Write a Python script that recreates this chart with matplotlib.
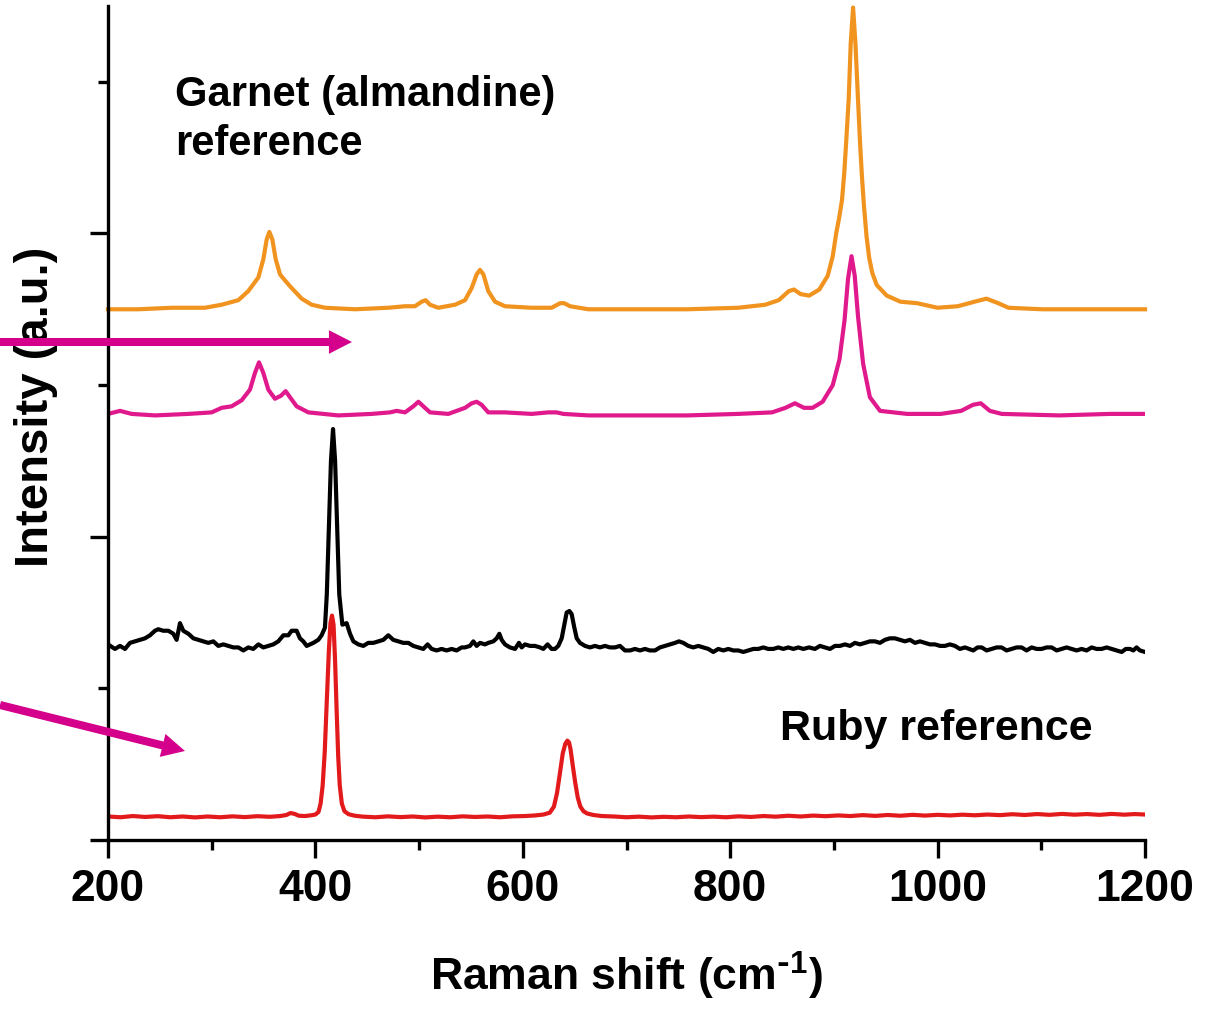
import matplotlib
matplotlib.use('Agg')
import matplotlib.pyplot as plt
from matplotlib.ticker import MultipleLocator

# Raman spectra, stacked with vertical offsets (a.u.)
garnet_ref_x = [200, 229.2, 261.4, 293.5, 309.6, 325.7, 335.3, 345.0, 349.8, 353.0, 355.6, 358.5,
                361.7, 365.9, 370.7, 377.1, 386.8, 396.4, 409.3, 438.2, 470.3, 486.4, 496.0, 502.5,
                506.3, 510.5, 518.5, 534.6, 544.3, 550.7, 555.5, 558.7, 562.0, 566.7, 573.2, 582.8,
                608.5, 627.8, 635.9, 640.0, 645.5, 663.2, 695.3, 758.8, 807.7, 833.8, 846.8, 856.6,
                861.5, 868.0, 876.1, 885.9, 894.0, 898.9, 902.2, 905.0, 907.8, 910.0, 912.0, 914.3,
                916.2, 918.5, 920.8, 923.2, 925.2, 927.0, 929.0, 931.5, 934.0, 937.0, 941.3, 951.0,
                964.1, 980.3, 999.9, 1019.4, 1035.7, 1047.1, 1058.5, 1068.3, 1100.9, 1149.7, 1200]
garnet_ref_y = [3.50, 3.50, 3.51, 3.51, 3.53, 3.56, 3.62, 3.71, 3.83, 3.96, 4.01, 3.96,
                3.83, 3.73, 3.69, 3.64, 3.57, 3.53, 3.51, 3.50, 3.51, 3.52, 3.52, 3.55,
                3.56, 3.53, 3.51, 3.53, 3.56, 3.64, 3.73, 3.76, 3.73, 3.62, 3.55, 3.52,
                3.51, 3.51, 3.54, 3.54, 3.52, 3.50, 3.50, 3.50, 3.51, 3.53, 3.56, 3.62,
                3.63, 3.60, 3.59, 3.63, 3.72, 3.85, 4.00, 4.10, 4.22, 4.40, 4.62, 4.89,
                5.25, 5.49, 5.25, 4.89, 4.60, 4.38, 4.18, 3.98, 3.84, 3.74, 3.66, 3.59,
                3.55, 3.54, 3.51, 3.52, 3.55, 3.57, 3.54, 3.51, 3.50, 3.50, 3.50]

garnet_sample_x = [200, 211.6, 222.8, 245.3, 277.5, 299.9, 309.6, 319.2, 328.9, 336.9, 341.7, 345.6,
                   349.8, 354.6, 361.0, 366.8, 371.3, 375.5, 381.9, 393.2, 422.1, 454.2, 471.9, 478.4,
                   486.4, 494.4, 499.3, 504.1, 510.5, 528.2, 544.3, 550.7, 555.5, 560.3, 566.7, 582.8,
                   608.5, 624.6, 632.6, 639.1, 663.2, 695.3, 758.8, 807.7, 840.3, 853.3, 862.4, 871.2,
                   879.4, 889.1, 898.9, 905.4, 910.3, 913.6, 917.0, 920.1, 923.3, 928.2, 934.7, 944.5,
                   970.6, 1003.1, 1022.7, 1034.1, 1041.6, 1050.4, 1061.8, 1117.2, 1166.0, 1200]
garnet_sample_y = [2.81, 2.83, 2.81, 2.80, 2.81, 2.82, 2.85, 2.86, 2.90, 2.97, 3.08, 3.15,
                   3.08, 2.97, 2.91, 2.93, 2.96, 2.92, 2.86, 2.82, 2.80, 2.81, 2.82, 2.83,
                   2.82, 2.86, 2.89, 2.86, 2.82, 2.81, 2.85, 2.88, 2.89, 2.87, 2.82, 2.82,
                   2.81, 2.82, 2.82, 2.81, 2.80, 2.80, 2.80, 2.81, 2.82, 2.85, 2.88, 2.85,
                   2.85, 2.89, 3.00, 3.17, 3.43, 3.70, 3.85, 3.72, 3.45, 3.14, 2.92, 2.83,
                   2.81, 2.81, 2.83, 2.87, 2.88, 2.83, 2.81, 2.80, 2.81, 2.81]

ruby_sample_x = [200, 206.7, 211.6, 216.4, 221.2, 226.0, 230.9, 235.7, 240.5, 245.3, 248.5, 253.3,
                 258.2, 263.0, 266.2, 269.4, 272.6, 277.5, 282.3, 287.1, 292.0, 296.7, 301.6, 306.4,
                 311.2, 316.0, 320.9, 325.7, 330.5, 335.3, 340.1, 345.0, 349.8, 354.6, 359.4, 364.2,
                 369.1, 373.9, 377.1, 381.9, 385.1, 388.3, 391.6, 394.8, 398.0, 402.8, 406.0, 409.2,
                 411.0, 413.0, 415.0, 417.0, 419.0, 421.0, 423.0, 426.0, 430.1, 433.4, 436.6, 441.4,
                 446.2, 451.0, 455.9, 460.7, 465.5, 470.3, 475.1, 480.0, 484.8, 489.6, 494.4, 499.3,
                 504.1, 508.2, 512.1, 516.9, 521.7, 526.5, 531.4, 536.2, 541.0, 544.2, 549.1, 552.3,
                 555.5, 558.7, 563.5, 566.7, 571.6, 574.8, 577.4, 579.6, 582.8, 587.6, 592.5, 596.3,
                 598.9, 602.1, 606.9, 611.7, 616.6, 619.8, 623.9, 627.8, 631.0, 634.2, 637.5, 640.0,
                 642.3, 644.9, 647.1, 649.7, 652.0, 655.1, 660.0, 664.8, 669.6, 674.4, 679.2, 684.1,
                 688.9, 693.7, 698.5, 703.4, 708.2, 713.0, 717.8, 722.6, 727.5, 732.3, 737.1, 741.9,
                 746.8, 750.6, 754.8, 759.6, 764.4, 769.2, 774.1, 778.9, 783.7, 788.5, 793.4, 798.2,
                 803.0, 807.8, 812.6, 817.5, 822.3, 827.1, 831.9, 836.7, 841.6, 846.4, 851.2, 856.0,
                 860.9, 865.7, 870.5, 876.0, 881.7, 886.5, 891.4, 896.2, 901.0, 905.8, 910.7, 915.5,
                 920.3, 925.1, 930.0, 934.8, 939.6, 944.4, 949.2, 954.0, 958.9, 963.7, 968.5, 973.3,
                 978.2, 983.0, 987.8, 992.6, 997.5, 1002.3, 1007.1, 1011.9, 1016.7, 1021.5, 1026.4,
                 1030.4, 1034.4, 1038.5, 1042.5, 1047.3, 1052.1, 1056.9, 1061.7, 1066.5, 1071.4,
                 1076.2, 1081.0, 1085.8, 1090.7, 1095.5, 1100.3, 1105.1, 1110.0, 1114.8, 1119.6,
                 1124.4, 1129.3, 1134.1, 1138.9, 1143.7, 1148.5, 1153.3, 1158.2, 1163.0, 1167.8,
                 1172.6, 1177.5, 1181.5, 1185.5, 1188.7, 1191.9, 1195.1, 1200]
ruby_sample_y = [1.29, 1.26, 1.28, 1.26, 1.30, 1.31, 1.32, 1.33, 1.35, 1.38, 1.39, 1.38,
                 1.38, 1.36, 1.32, 1.43, 1.38, 1.36, 1.33, 1.32, 1.31, 1.30, 1.31, 1.28,
                 1.29, 1.28, 1.27, 1.27, 1.25, 1.27, 1.26, 1.29, 1.27, 1.28, 1.29, 1.31,
                 1.35, 1.35, 1.38, 1.38, 1.33, 1.31, 1.28, 1.29, 1.30, 1.32, 1.35, 1.40,
                 1.62, 2.05, 2.50, 2.71, 2.50, 2.05, 1.62, 1.42, 1.43, 1.36, 1.31, 1.29,
                 1.28, 1.30, 1.30, 1.31, 1.32, 1.35, 1.32, 1.31, 1.30, 1.30, 1.28, 1.27,
                 1.26, 1.29, 1.26, 1.25, 1.26, 1.25, 1.26, 1.25, 1.27, 1.27, 1.28, 1.31,
                 1.28, 1.30, 1.29, 1.30, 1.31, 1.33, 1.36, 1.32, 1.29, 1.27, 1.26, 1.30,
                 1.27, 1.29, 1.28, 1.28, 1.27, 1.26, 1.29, 1.26, 1.26, 1.28, 1.33, 1.42,
                 1.50, 1.51, 1.49, 1.40, 1.33, 1.30, 1.28, 1.27, 1.28, 1.27, 1.28, 1.27,
                 1.27, 1.28, 1.25, 1.25, 1.26, 1.25, 1.26, 1.25, 1.25, 1.27, 1.28, 1.29,
                 1.30, 1.31, 1.30, 1.28, 1.27, 1.28, 1.27, 1.26, 1.24, 1.26, 1.25, 1.26,
                 1.25, 1.25, 1.24, 1.25, 1.26, 1.26, 1.27, 1.26, 1.26, 1.27, 1.26, 1.27,
                 1.26, 1.27, 1.26, 1.27, 1.26, 1.28, 1.27, 1.26, 1.28, 1.28, 1.29, 1.28,
                 1.30, 1.29, 1.30, 1.31, 1.31, 1.30, 1.32, 1.33, 1.33, 1.32, 1.31, 1.32,
                 1.30, 1.31, 1.30, 1.29, 1.29, 1.28, 1.28, 1.29, 1.28, 1.26, 1.27,
                 1.26, 1.25, 1.27, 1.27, 1.25, 1.26, 1.27, 1.27, 1.25, 1.26,
                 1.27, 1.27, 1.25, 1.27, 1.26, 1.26, 1.27, 1.27, 1.25, 1.26,
                 1.27, 1.26, 1.25, 1.26, 1.25, 1.27, 1.26, 1.26, 1.27, 1.26,
                 1.25, 1.24, 1.26, 1.26, 1.25, 1.27, 1.25, 1.24]

ruby_ref_x = [200, 212, 224, 236, 248, 260, 272, 284, 296, 308, 320, 332, 344, 356, 366, 372,
              376, 380, 384, 390, 396, 400, 403, 405, 407, 409, 411, 413, 414.5, 416, 417.5, 419,
              420.5, 422, 423.5, 425.5, 428, 432, 438, 446, 458, 470, 482, 494, 506, 518, 530,
              542, 554, 566, 578, 590, 602, 612, 620, 626, 630, 633, 636, 638.5, 641, 643,
              644.5, 646, 648, 650.5, 653, 655.5, 658.5, 662, 668, 676, 688, 700, 712, 724, 736,
              748, 760, 772, 784, 796, 808, 820, 832, 844, 856, 868, 880, 892, 904, 916, 928,
              940, 952, 964, 976, 988, 1000, 1012, 1024, 1036, 1048, 1060, 1072, 1084, 1096,
              1108, 1120, 1132, 1144, 1156, 1168, 1180, 1190, 1200]
ruby_ref_y = [0.155, 0.150, 0.158, 0.152, 0.157, 0.150, 0.155, 0.149, 0.155, 0.150, 0.156, 0.151,
              0.157, 0.153, 0.158, 0.165, 0.178, 0.172, 0.160, 0.158, 0.163, 0.168, 0.185, 0.24,
              0.36, 0.58, 0.92, 1.25, 1.43, 1.48, 1.42, 1.18, 0.85, 0.55, 0.36, 0.24, 0.19, 0.17,
              0.160, 0.154, 0.150, 0.156, 0.151, 0.155, 0.149, 0.154, 0.150, 0.156, 0.152, 0.155,
              0.150, 0.156, 0.158, 0.162, 0.168, 0.180, 0.22, 0.31, 0.45, 0.57, 0.635, 0.655,
              0.645, 0.60, 0.50, 0.38, 0.28, 0.22, 0.19, 0.175, 0.165, 0.158, 0.155, 0.150,
              0.154, 0.149, 0.153, 0.150, 0.155, 0.151, 0.154, 0.150, 0.156, 0.152, 0.158, 0.154,
              0.160, 0.155, 0.161, 0.157, 0.162, 0.158, 0.164, 0.159, 0.165, 0.160, 0.166, 0.161,
              0.166, 0.162, 0.167, 0.163, 0.168, 0.164, 0.170, 0.165, 0.171, 0.166, 0.172, 0.167,
              0.171, 0.166, 0.172, 0.167, 0.171, 0.168]

plt.rcParams['font.family'] = 'Liberation Sans'
plt.rcParams['font.weight'] = 'bold'
plt.rcParams['mathtext.default'] = 'regular'

fig = plt.figure(figsize=(12.11, 10.09), dpi=100)
ax = fig.add_axes([108 / 1211, 169 / 1009, 1037 / 1211, 834 / 1009])

lw = 3.0
ax.plot(ruby_ref_x, ruby_ref_y, color='#e31a1c', lw=lw, solid_joinstyle='round')
ax.plot(ruby_sample_x, ruby_sample_y, color='black', lw=lw, solid_joinstyle='round')
ax.plot(garnet_sample_x, garnet_sample_y, color='#e0198c', lw=lw, solid_joinstyle='round')
ax.plot(garnet_ref_x, garnet_ref_y, color='#f0931f', lw=lw, solid_joinstyle='round', clip_on=False)

ax.set_xlim(200, 1200)
ax.set_ylim(0, 5.5)
ax.xaxis.set_major_locator(MultipleLocator(200))
ax.xaxis.set_minor_locator(MultipleLocator(100))
ax.yaxis.set_major_locator(MultipleLocator(2))
ax.yaxis.set_minor_locator(MultipleLocator(1))
ax.tick_params(which='major', direction='out', length=13, width=2.4, labelsize=32, pad=8)
ax.tick_params(which='minor', direction='out', length=7, width=2.4)
ax.tick_params(axis='y', labelleft=False)
for side in ['top', 'right']:
    ax.spines[side].set_visible(False)
for side in ['left', 'bottom']:
    ax.spines[side].set_linewidth(2.4)

ax.set_xlabel(r'Raman shift (cm$^{\text{-}1}$)', fontsize=32, fontweight='bold')
ax.xaxis.set_label_coords(0.5, -0.132)
ax.set_ylabel('Intensity (a.u.)', fontsize=34, fontweight='bold')
ax.yaxis.set_label_coords(-0.048, 0.52)

ax.text(264.6, 5.046, 'Garnet (almandine)\nreference', fontsize=30, ha='left', va='top',
        linespacing=1.3)
ax.text(848, 0.864, 'Ruby reference', fontsize=31, ha='left', va='top')

# arrows pointing at the two sample spectra
arrow = dict(arrowstyle='simple,head_length=1.66,head_width=1.7,tail_width=0.58',
             color='#d4008c', lw=0, shrinkA=0, shrinkB=0, mutation_scale=10)
ax.annotate('', xy=(352, 667), xytext=(0, 667), xycoords='figure pixels',
            textcoords='figure pixels', arrowprops=arrow)
ax.annotate('', xy=(185, 258), xytext=(0, 304), xycoords='figure pixels',
            textcoords='figure pixels', arrowprops=arrow)

plt.savefig('out.png', dpi=100)
